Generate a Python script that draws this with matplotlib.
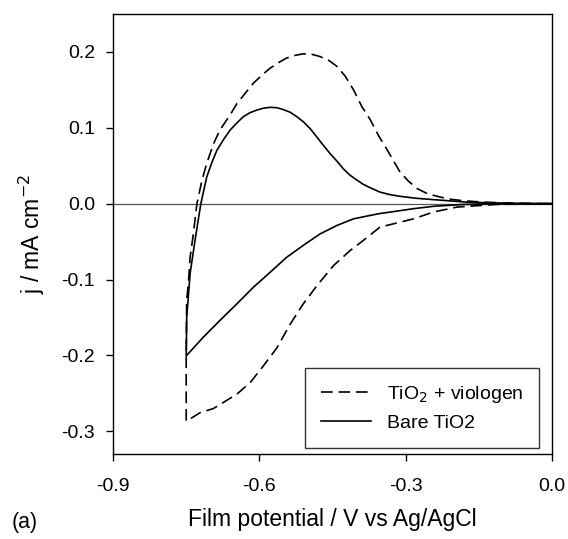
import matplotlib
matplotlib.use("Agg")
import matplotlib.pyplot as plt

plt.rcParams['font.family'] = ['Liberation Sans', 'DejaVu Sans']

# --- TiO2 + viologen (dashed), closed CV loop ---
# cathodic sweep (0 -> -0.75 V)
viol_cat_x = [0.0, -0.113, -0.195, -0.243, -0.284, -0.353, -0.387, -0.414, -0.448,
              -0.482, -0.510, -0.537, -0.564, -0.592, -0.619, -0.646, -0.694,
              -0.722, -0.749]
viol_cat_y = [0.0, -0.001, -0.0045, -0.011, -0.020, -0.031, -0.0485, -0.0618, -0.0816,
              -0.108, -0.132, -0.159, -0.190, -0.214, -0.236, -0.251, -0.270,
              -0.2757, -0.2866]
# anodic sweep (-0.75 -> 0 V)
viol_an_x = [-0.750, -0.750, -0.749, -0.745, -0.742, -0.735, -0.728, -0.718, -0.708,
             -0.694, -0.681, -0.660, -0.646, -0.626, -0.612, -0.592, -0.578, -0.558,
             -0.544, -0.527, -0.510, -0.493, -0.476, -0.458, -0.441, -0.424, -0.407,
             -0.390, -0.373, -0.356, -0.339, -0.312, -0.295, -0.277, -0.255, -0.230,
             -0.205, -0.175, -0.140, -0.100, -0.050, 0.0]
viol_an_y = [-0.2866, -0.203, -0.128, -0.100, -0.0706, -0.038, 0.0, 0.030, 0.053,
             0.079, 0.097, 0.117, 0.132, 0.148, 0.159, 0.171, 0.1786, 0.187,
             0.192, 0.1955, 0.1975, 0.197, 0.194, 0.189, 0.181, 0.168, 0.150,
             0.128, 0.111, 0.090, 0.072, 0.042, 0.030, 0.020, 0.013, 0.0088,
             0.0055, 0.0035, 0.002, 0.001, 0.0004, 0.0]

# --- Bare TiO2 (solid) ---
bare_cat_x = [0.0, -0.100, -0.182, -0.243, -0.284, -0.320, -0.353, -0.373, -0.407,
              -0.441, -0.476, -0.510, -0.544, -0.578, -0.612, -0.646, -0.681,
              -0.715, -0.750]
bare_cat_y = [0.0, -0.0004, -0.001, -0.0035, -0.0066, -0.010, -0.013, -0.0155, -0.020,
              -0.0287, -0.040, -0.055, -0.0706, -0.0905, -0.110, -0.132, -0.154,
              -0.176, -0.2007]
bare_an_x = [-0.750, -0.749, -0.742, -0.732, -0.720, -0.708, -0.697, -0.687, -0.673,
             -0.660, -0.646, -0.633, -0.619, -0.605, -0.592, -0.578, -0.564, -0.551,
             -0.537, -0.524, -0.510, -0.496, -0.483, -0.469, -0.455, -0.441, -0.428,
             -0.414, -0.400, -0.387, -0.373, -0.353, -0.333, -0.312, -0.280, -0.243,
             -0.205, -0.175, -0.120, -0.060, 0.0]
bare_an_y = [-0.2007, -0.150, -0.092, -0.0485, 0.0, 0.035, 0.055, 0.0705, 0.085,
             0.097, 0.1065, 0.1146, 0.120, 0.1234, 0.1258, 0.127, 0.1265, 0.124,
             0.1205, 0.115, 0.108, 0.099, 0.0885, 0.077, 0.066, 0.056, 0.046,
             0.0374, 0.031, 0.0255, 0.021, 0.0153, 0.012, 0.0097, 0.0072, 0.0053,
             0.0035, 0.002, 0.001, 0.0004, 0.0]

xticks = [-0.9, -0.6, -0.3, 0.0]
yticks = [-0.3, -0.2, -0.1, 0.0, 0.1, 0.2]

fig = plt.figure(figsize=(5.68, 5.39), dpi=100)
ax = fig.add_axes([0.199, 0.1577, 0.773, 0.8163])

ax.axhline(0, color='#555555', lw=0.9, zorder=1)

ax.plot(viol_cat_x + viol_an_x, viol_cat_y + viol_an_y, color='black', lw=1.2,
        linestyle=(0, (7, 3.5)), label='TiO$_2$ + viologen')
ax.plot(bare_cat_x + bare_an_x, bare_cat_y + bare_an_y, color='black', lw=1.2,
        label='Bare TiO2')

ax.set_xlim(-0.9, 0.0)
ax.set_ylim(-0.33, 0.25)
ax.set_xticks(xticks)
ax.set_yticks(yticks)
ax.set_xticklabels([f'{v:.1f}' for v in xticks])
ax.set_yticklabels([f'{v:.1f}' for v in yticks])
ax.tick_params(direction='out', length=5, width=1, labelsize=14, colors='black')
ax.tick_params(axis='x', pad=12)
ax.tick_params(axis='y', pad=8)

for s in ax.spines.values():
    s.set_linewidth(1.0)

ax.set_ylabel('j / mA cm$^{-2}$', fontsize=16.5, labelpad=10)
ax.set_xlabel('Film potential / V vs Ag/AgCl', fontsize=16.5, labelpad=10)
fig.text(0.02, 0.0204, '(a)', fontsize=15.5, va='baseline')

leg = ax.legend(loc='lower right', bbox_to_anchor=(0.97, 0.014), fontsize=14,
                frameon=True, fancybox=False, edgecolor='black', borderaxespad=0,
                handlelength=2.6, borderpad=0.8, labelspacing=0.5)
leg.get_frame().set_linewidth(1.0)

fig.savefig('out.png', dpi=100)
